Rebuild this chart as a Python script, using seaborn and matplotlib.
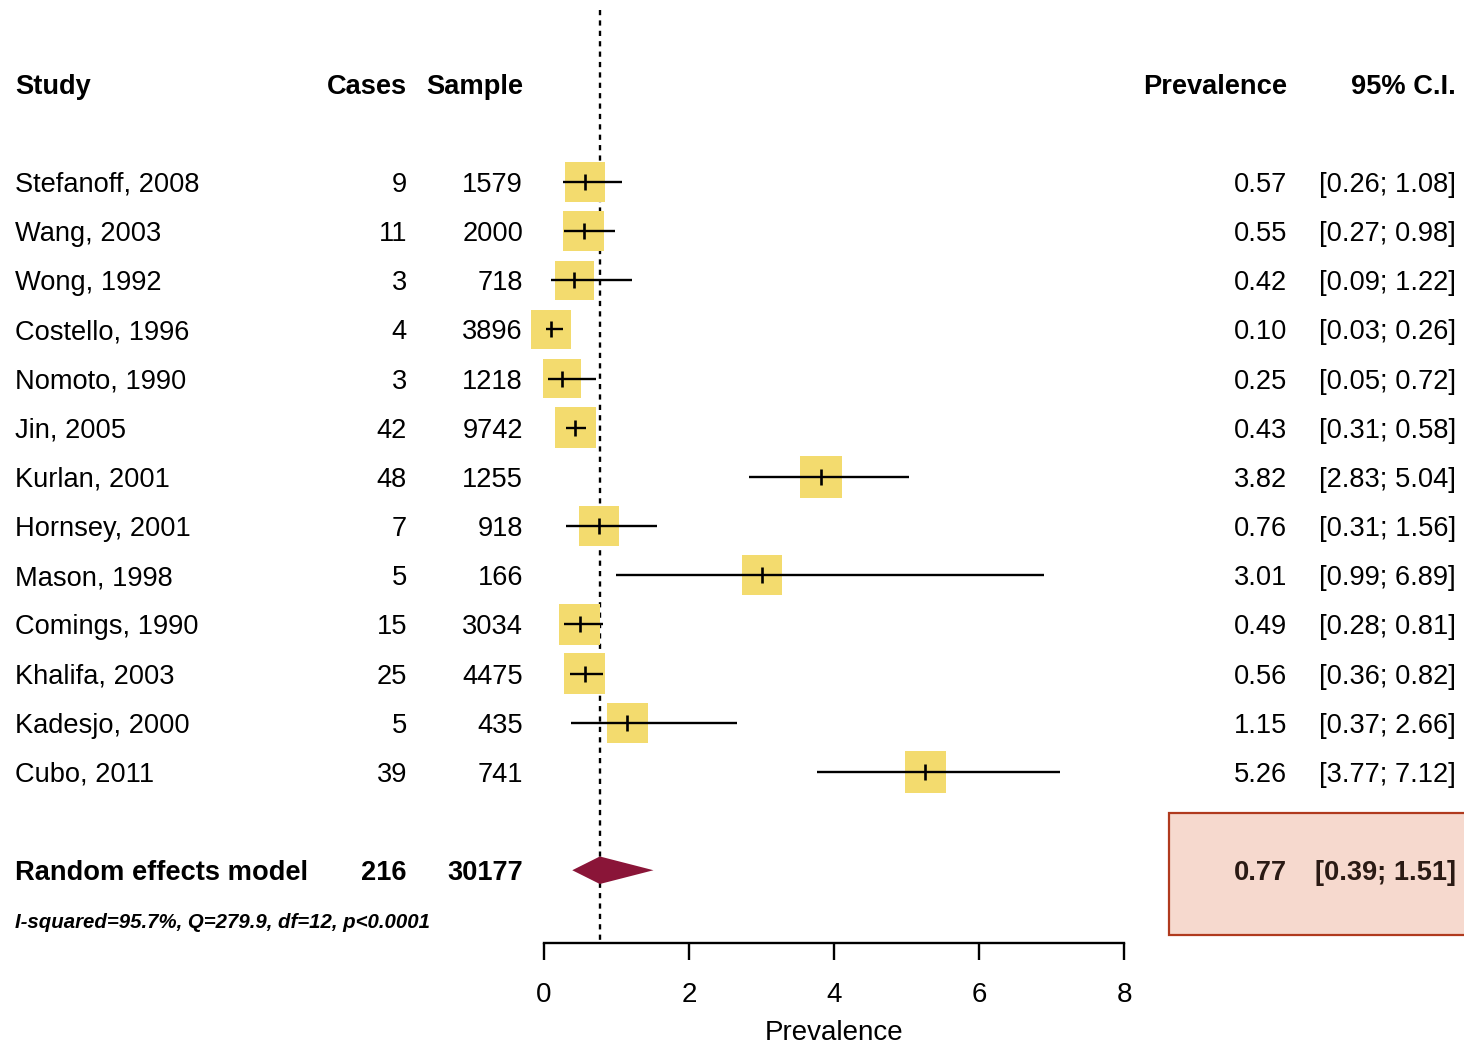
import numpy as np
import pandas as pd
import seaborn as sns
import matplotlib.pyplot as plt
from matplotlib import transforms
from matplotlib.patches import Rectangle

studies = ['Stefanoff, 2008', 'Wang, 2003', 'Wong, 1992', 'Costello, 1996',
           'Nomoto, 1990', 'Jin, 2005', 'Kurlan, 2001', 'Hornsey, 2001',
           'Mason, 1998', 'Comings, 1990', 'Khalifa, 2003', 'Kadesjo, 2000',
           'Cubo, 2011']
cases = [9, 11, 3, 4, 3, 42, 48, 7, 5, 15, 25, 5, 39]
sample = [1579, 2000, 718, 3896, 1218, 9742, 1255, 918, 166, 3034, 4475, 435, 741]
prevalence = [0.57, 0.55, 0.42, 0.10, 0.25, 0.43, 3.82, 0.76, 3.01, 0.49, 0.56, 1.15, 5.26]
ci_low = [0.26, 0.27, 0.09, 0.03, 0.05, 0.31, 2.83, 0.31, 0.99, 0.28, 0.36, 0.37, 3.77]
ci_high = [1.08, 0.98, 1.22, 0.26, 0.72, 0.58, 5.04, 1.56, 6.89, 0.81, 0.82, 2.66, 7.12]
weights = [7.8, 8.0, 7.2, 7.6, 7.2, 8.0, 8.2, 7.8, 7.5, 8.0, 8.2, 7.8, 8.2]

re_cases, re_sample = 216, 30177
re_est, re_low, re_high = 0.77, 0.39, 1.51
het_text = 'I-squared=95.7%, Q=279.9, df=12, p<0.0001'
x_ticks = [0, 2, 4, 6, 8]

df = pd.DataFrame({'study': studies, 'est': prevalence, 'lo': ci_low,
                   'hi': ci_high, 'w': weights, 'row': np.arange(len(studies))})
re_row = len(studies) + 1

sns.set_style('white', {'text.color': 'black', 'axes.labelcolor': 'black',
                        'xtick.color': 'black', 'axes.edgecolor': 'black'})
plt.rcParams['font.family'] = ['Liberation Sans', 'DejaVu Sans']

W, H = 1464, 1044
fig = plt.figure(figsize=(W / 100, H / 100), dpi=100)
ax = fig.add_axes([544 / W, (H - 943) / H, 580 / W, 943 / H])

yellow = '#F3DB6E'
# weighted study boxes
sns.scatterplot(data=df, x='est', y='row', size='w', sizes=(7.2 * 108, 8.2 * 108),
                size_norm=(7.2, 8.2), marker='s', color=yellow, linewidth=0,
                legend=False, ax=ax, clip_on=False, zorder=2)
ax.hlines(df['row'], df['lo'], df['hi'], color='black', lw=1.7, zorder=3, clip_on=False)
ax.plot(df['est'], df['row'], ls='none', marker='|', ms=12, mew=1.9,
        color='black', zorder=4, clip_on=False)

# summary diamond
ax.fill([re_low, re_est, re_high, re_est], [re_row, re_row - 0.28, re_row, re_row + 0.28],
        color='#8A1538', lw=0, zorder=3)

ax.set_xlim(0, 8)
ax.set_ylim(15.48, -3.70)
ax.vlines(re_est, -3.5, 15.48, color='black', lw=1.7, linestyles=(0, (2.2, 2.2)), zorder=1)

for s in ['left', 'top', 'right']:
    ax.spines[s].set_visible(False)
ax.spines['bottom'].set_linewidth(1.7)
ax.set_yticks([])
ax.set_xticks(x_ticks)
ax.tick_params(axis='x', direction='out', length=12, width=1.7, labelsize=20, pad=16,
               bottom=True, colors='black')
ax.set_xlabel('Prevalence', fontsize=20, labelpad=9)
ax.set_ylabel('')

tr = transforms.blended_transform_factory(fig.transFigure, ax.transData)
fs = 19.6
dy = 0.06  # small downward nudge of the text rows

def fx(px):
    return px / W

# header
hdr_y = -2 + dy
ax.text(fx(15), hdr_y, 'Study', transform=tr, ha='left', va='center', fontsize=fs, fontweight='bold')
ax.text(fx(407), hdr_y, 'Cases', transform=tr, ha='right', va='center', fontsize=fs, fontweight='bold')
ax.text(fx(523), hdr_y, 'Sample', transform=tr, ha='right', va='center', fontsize=fs, fontweight='bold')
ax.text(fx(1287), hdr_y, 'Prevalence', transform=tr, ha='right', va='center', fontsize=fs, fontweight='bold')
ax.text(fx(1456), hdr_y, '95% C.I.', transform=tr, ha='right', va='center', fontsize=fs, fontweight='bold')

for i, r in df.iterrows():
    y = r['row'] + dy
    ax.text(fx(15), y, r['study'], transform=tr, ha='left', va='center', fontsize=fs)
    ax.text(fx(407), y, str(cases[i]), transform=tr, ha='right', va='center', fontsize=fs)
    ax.text(fx(523), y, str(sample[i]), transform=tr, ha='right', va='center', fontsize=fs)
    ax.text(fx(1287), y, f"{r['est']:.2f}", transform=tr, ha='right', va='center', fontsize=fs)
    ax.text(fx(1456), y, f"[{r['lo']:.2f}; {r['hi']:.2f}]", transform=tr, ha='right',
            va='center', fontsize=fs)

# summary row
ax.add_patch(Rectangle((fx(1169), 12.84), fx(310), 2.48, transform=tr, facecolor='#F6D9CE',
                       edgecolor='#B03A1E', lw=1.6, clip_on=False, zorder=0))
ax.text(fx(15), re_row + dy, 'Random effects model', transform=tr, ha='left', va='center',
        fontsize=fs, fontweight='bold')
ax.text(fx(407), re_row + dy, str(re_cases), transform=tr, ha='right', va='center', fontsize=fs, fontweight='bold')
ax.text(fx(523), re_row + dy, str(re_sample), transform=tr, ha='right', va='center', fontsize=fs, fontweight='bold')
ax.text(fx(1287), re_row + dy, f'{re_est:.2f}', transform=tr, ha='right', va='center',
        fontsize=fs, fontweight='bold', color='#2A1A14')
ax.text(fx(1456), re_row + dy, f'[{re_low:.2f}; {re_high:.2f}]', transform=tr, ha='right',
        va='center', fontsize=fs, fontweight='bold', color='#2A1A14')
ax.text(fx(15), re_row + 1.0 + dy, het_text, transform=tr, ha='left', va='center',
        fontsize=14.7, fontweight='bold', fontstyle='italic')

fig.savefig('out.png', dpi=100)
